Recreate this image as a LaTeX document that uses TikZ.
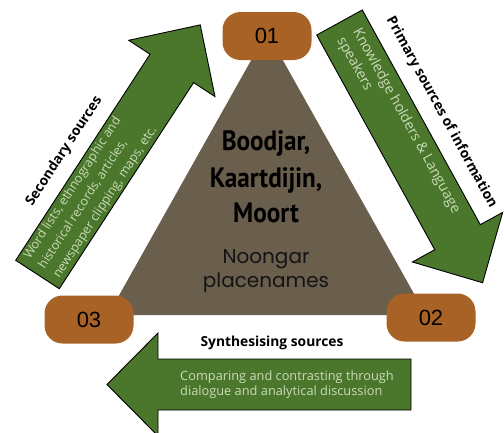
\documentclass[tikz,border=0pt]{standalone}
\usepackage{fontspec}
\setmainfont{Open Sans}
\newfontfamily\condbold[FakeStretch=0.9]{PT Sans}
\newfontfamily\numfont{Liberation Sans}
\newfontfamily\placefont{Poppins}
\definecolor{arrowgreen}{HTML}{4A772B}
\definecolor{tribrown}{HTML}{6A5E4C}
\definecolor{boxorange}{HTML}{A96226}
\definecolor{paletext}{HTML}{CADBB8}
\tikzset{
  arrowshape/.style={fill=arrowgreen, draw=black, line width=0.9pt, line join=miter},
  numbox/.style={rounded corners=18pt, fill=boxorange, minimum width=89pt, minimum height=48pt, inner sep=0pt, font=\numfont\fontsize{22}{26}\selectfont, text=black},
  greentext/.style={text=paletext, inner sep=0pt, align=left},
  labeltext/.style={font=\bfseries\fontsize{13.8}{16}\selectfont, text=black, inner sep=0pt},
  bigline/.style={font=\condbold\bfseries\fontsize{28}{32}\selectfont, text=black, inner sep=0pt, anchor=base},
  placeline/.style={font=\placefont\fontsize{20}{24}\selectfont, text=black!92, inner sep=0pt, anchor=base}
}
\begin{document}
\begin{tikzpicture}[x=1pt,y=-1pt]
\useasboundingbox (0,0) rectangle (504,432);
\clip (0,0) rectangle (504,432);
% central triangle
\fill[tribrown] (267,32) coordinate (apex) -- (426,315) coordinate (rightc) -- (108,315) coordinate (leftc) -- cycle;
\node[bigline] (l1) at (266,150) {Boodjar,};
\node[bigline] (l2) at (266,187) {Kaartdijin,};
\node[bigline] (l3) at (266,222) {Moort};
\node[placeline] (p1) at (266,263) {Noongar};
\node[placeline] (p2) at (266,287) {placenames};
% left arrow (secondary sources)
\begin{scope}[shift={(37.5,274.5)}, rotate=56.9, y=1pt]
  \draw[arrowshape] (0,-26) -- (246,-26) -- (246,-51.5) -- (298,0) -- (246,51.5) -- (246,26) -- (0,26) -- cycle;
  \node[greentext, anchor=west, transform shape, font=\fontsize{12.5}{17.5}\selectfont] (sectext) at (8,0)
    {Word lists, ethnographic and\\historical records, articles,\\newspaper clipping, maps, etc.};
  \node[labeltext, transform shape] (seclabel) at (118,45) {Secondary sources};
\end{scope}
% right arrow (primary sources)
\begin{scope}[shift={(339.5,22.5)}, rotate=-61.2, y=1pt]
  \draw[arrowshape] (0,-26) -- (245,-26) -- (245,-51.5) -- (297,0) -- (245,51.5) -- (245,26) -- (0,26) -- cycle;
  \node[greentext, anchor=west, transform shape, font=\fontsize{14.2}{18}\selectfont] (primtext) at (14,2)
    {Knowledge holders \& Language\\speakers};
  \node[labeltext, transform shape] (primlabel) at (128,46) {Primary sources of information};
\end{scope}
% bottom arrow (synthesising)
\begin{scope}[shift={(411,384.5)}, rotate=180, y=1pt]
  \draw[arrowshape] (0,-25.5) -- (253,-25.5) -- (253,-51.5) -- (304,0) -- (253,51.5) -- (253,25.5) -- (0,25.5) -- cycle;
\end{scope}
\node[greentext, anchor=west, font=\fontsize{12.8}{15}\selectfont] (syntext) at (180,385)
  {Comparing and contrasting through\\dialogue and analytical discussion};
\node[labeltext] (synlabel) at (272,343) {Synthesising sources};
% number boxes
\node[numbox] (n01) at (267,36) {01};
\node[numbox] (n02) at (431,317.5) {02};
\node[numbox] (n03) at (89,319.5) {03};
\end{tikzpicture}
\end{document}
